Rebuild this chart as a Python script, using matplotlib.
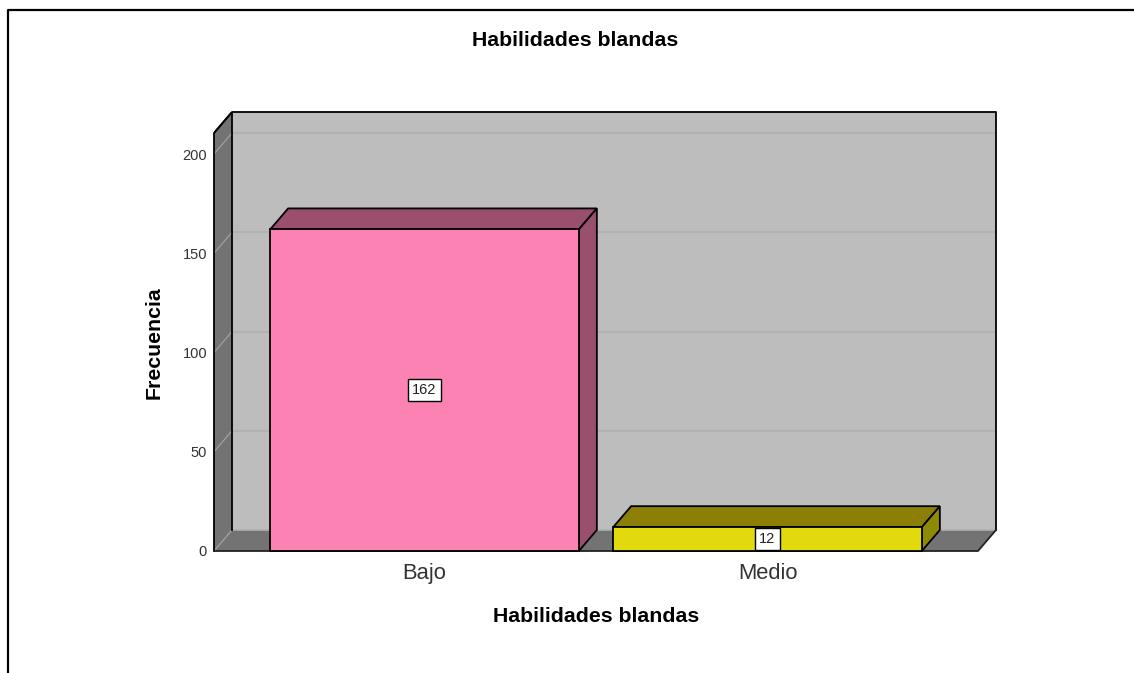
import matplotlib
matplotlib.use('Agg')
import matplotlib.pyplot as plt
from matplotlib.patches import Polygon, Rectangle
from matplotlib.lines import Line2D

plt.rcParams['font.family'] = ['Liberation Sans', 'DejaVu Sans']

# data
categorias = ['Bajo', 'Medio']
frecuencias = [162, 12]
colores = ['#fc82b4', '#e2da0c']
colores_top = ['#9b4f6e', '#8b7f06']
colores_lado = ['#9b4f6e', '#8f8a06']
yticks = [0, 50, 100, 150, 200]

W, H = 1134, 673
fig = plt.figure(figsize=(W / 100, H / 100), dpi=100, facecolor='white')

# axes box runs from the front left corner to the back right corner
L, R, T, B = 214, 996, 112, 551
ax = fig.add_axes([L / W, 1 - B / H, (R - L) / W, (B - T) / H])

px_x = 343.0            # pixels per category
px_y = 1.985            # pixels per unit
x0 = (424.5 - L) / px_x
ax.set_xlim(-x0, (R - L) / px_x - x0)
ax.set_ylim(0, (B - T) / px_y)
dx = 18 / px_x
dy = 21 / px_y
ancho = 0.9

xmin, xmax = ax.get_xlim()
ymax = ax.get_ylim()[1]
xfront = xmax - dx
yfront = ymax - dy

# back wall, side wall, floor
ax.add_patch(Polygon([(xmin + dx, dy), (xmax, dy), (xmax, ymax), (xmin + dx, ymax)],
                     fc='#bdbdbd', ec='none', zorder=1))
ax.add_patch(Polygon([(xmin, 0), (xmin + dx, dy), (xmin + dx, ymax), (xmin, yfront)],
                     fc='#737373', ec='none', zorder=1))
ax.add_patch(Polygon([(xmin, 0), (xfront, 0), (xmax, dy), (xmin + dx, dy)],
                     fc='#737373', ec='none', zorder=1))

# grid on the walls
for v in yticks:
    ax.plot([xmin + dx, xmax], [v + dy, v + dy], color='#b0b0b0', lw=1.2, zorder=2)
    ax.plot([xmin, xmin + dx], [v, v + dy], color='#a0a0a0', lw=0.9, zorder=2)

# outlines
ax.plot([xmin, xmin, xmin + dx, xmax, xmax], [0, yfront, ymax, ymax, dy],
        color='black', lw=1.3, zorder=3, clip_on=False)
ax.plot([xmin + dx, xmin + dx, xmin], [dy, ymax, yfront], color='black', lw=1.3, zorder=3)
ax.plot([xmax, xfront, xmin], [dy, 0, 0], color='#222222', lw=1.3, zorder=3, clip_on=False)

# bars
for i, v in enumerate(frecuencias):
    a = i - ancho / 2
    b = i + ancho / 2
    ax.add_patch(Polygon([(a, v), (b, v), (b + dx, v + dy), (a + dx, v + dy)],
                         fc=colores_top[i], ec='black', lw=1.3, zorder=4))
    ax.add_patch(Polygon([(b, 0), (b + dx, dy), (b + dx, v + dy), (b, v)],
                         fc=colores_lado[i], ec='black', lw=1.3, zorder=4))
    ax.add_patch(Rectangle((a, 0), ancho, v, fc=colores[i], ec='black', lw=1.3, zorder=5,
                           clip_on=False))
    ax.text(i, v / 2, str(v), ha='center', va='center', fontsize=10.5, color='#222222', zorder=6,
            bbox=dict(boxstyle='square,pad=0.28', fc='white', ec='black', lw=1.0))

# axes text
for s in ax.spines.values():
    s.set_visible(False)
ax.patch.set_visible(False)
ax.set_xticks(range(len(categorias)))
ax.set_xticklabels(categorias, fontsize=15.8, color='#333333', va='baseline')
ax.set_yticks(yticks)
ax.set_yticklabels([str(v) for v in yticks], fontsize=10.5, color='#333333')
ax.tick_params(axis='both', length=0)
ax.tick_params(axis='x', pad=20.5)
ax.tick_params(axis='y', pad=5)

fig.text(575 / W, 1 - 41 / H, 'Habilidades blandas', ha='center', va='center',
         fontsize=15.3, fontweight='bold', color='black')
fig.text(596 / W, 1 - 617 / H, 'Habilidades blandas', ha='center', va='center',
         fontsize=15.3, fontweight='bold', color='black')
fig.text(154 / W, 1 - 343 / H, 'Frecuencia', ha='center', va='center', rotation=90,
         fontsize=15.3, fontweight='bold', color='black')

# image frame, open at the right and bottom
fig.add_artist(Line2D([7.5 / W, 7.5 / W, 1], [0, 1 - 10 / H, 1 - 10 / H], color='black', lw=1.6))

fig.savefig('out.png', dpi=100)
